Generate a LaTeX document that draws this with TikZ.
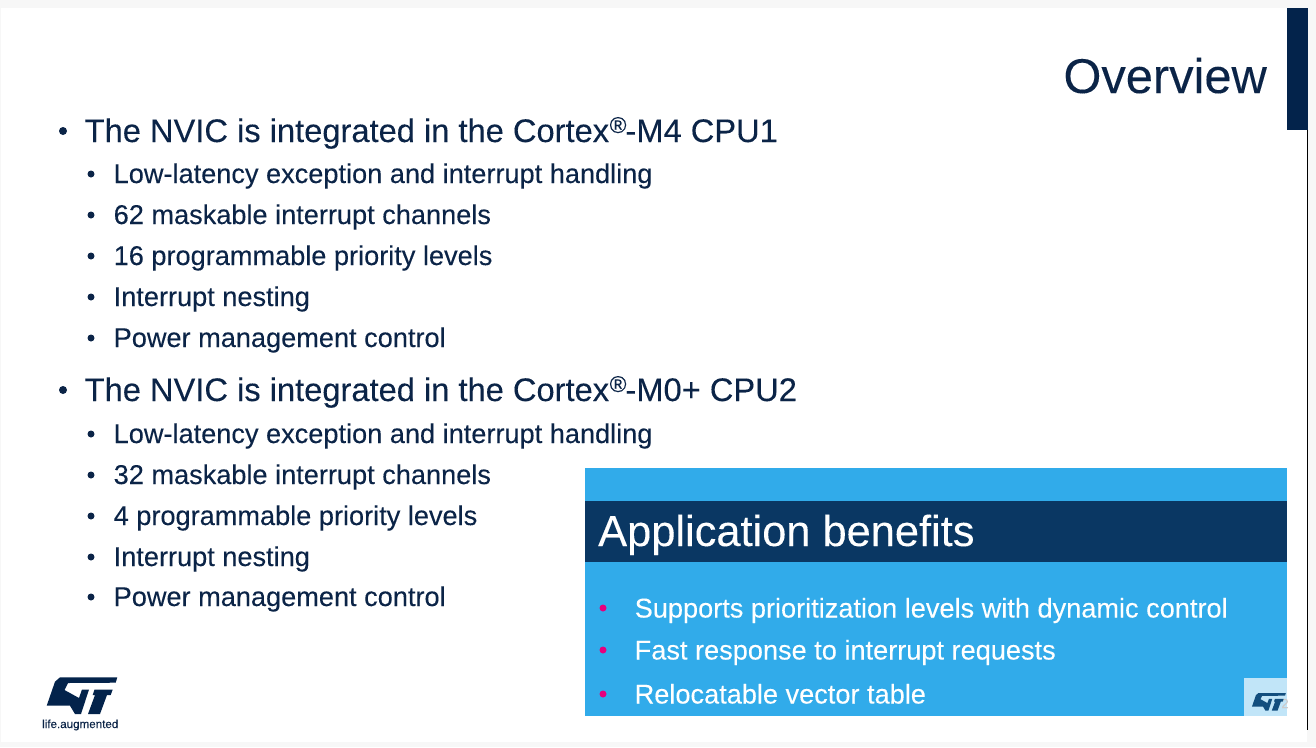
\documentclass[tikz,border=0pt]{standalone}
\usepackage{fontspec}
\setmainfont[FakeBold=0.12]{Liberation Sans}
\definecolor{stnavy}{HTML}{03234B}
\definecolor{stblue}{HTML}{31ABEA}
\definecolor{stband}{HTML}{0A3763}
\definecolor{stpink}{HTML}{E6007E}
\definecolor{stink}{HTML}{0B2447}
\newcommand{\stlogo}{
	(60,677.3) -- (117.3,677.3) -- (115.7,682.7) -- (68,683) -- (64.5,690) -- (79,698) -- (82,689.5) -- (89,689.5) -- (81,714) -- (75,714) -- (70,705.7) -- (46.7,705.7) -- (55,681.7) -- cycle
	(94.5,689.5) -- (112.7,689.5) -- (110.7,695) -- (107,695) -- (100,714) -- (88,714) -- (95,695) -- (92.7,695) -- cycle}
\tikzset{
	headitem/.style={anchor=base west,inner sep=0pt,text=stink,font=\fontsize{32.65}{36}\selectfont},
	subitem/.style={anchor=base west,inner sep=0pt,text=stink,font=\fontsize{27.15}{30}\selectfont},
	boxitem/.style={anchor=base west,inner sep=0pt,text=white,font=\fontsize{27.15}{30}\selectfont},
	headdot/.style={circle,fill=stink,inner sep=0pt,minimum size=8pt},
	subdot/.style={circle,fill=stink,inner sep=0pt,minimum size=7pt},
	boxdot/.style={circle,fill=stpink,inner sep=0pt,minimum size=7pt},
}
\begin{document}
\begin{tikzpicture}[x=1pt,y=-1pt]
	\useasboundingbox (0,0) rectangle (1316,747);
	\fill[black!3] (0,0) rectangle (1316,747);
	\fill[white] (1,8) rectangle (1307,742);
	\draw[black,line width=1pt] (1307.5,130) -- (1307.5,730);
	\fill[stnavy] (1287,8) rectangle (1308,130);
	\node[anchor=base east,inner sep=0pt,text=stink,font=\fontsize{48.8}{54}\selectfont] (title) at (1267,93) {Overview};
	% first list
	\node[headdot] (d1) at (63,131) {};
	\node[headitem] (h1) at (84.5,142) {The NVIC is integrated in the Cortex\kern1pt\textsuperscript{\kern-.5pt®\kern-1.5pt}-M4 CPU1};
	\foreach \y/\t in {184/Low-latency exception and interrupt handling,225/62 maskable interrupt channels,266/16 programmable priority levels,307/Interrupt nesting,348/Power management control}{
		\node[subdot] at (91,\y-10) {};
		\node[subitem] at (113.5,\y-1) {\t};
	}
	% second list
	\node[headdot] (d2) at (63,390) {};
	\node[headitem] (h2) at (84.5,401) {The NVIC is integrated in the Cortex\kern1pt\textsuperscript{\kern-.5pt®\kern-1.5pt}-M0+ CPU2};
	\foreach \y/\t in {444/Low-latency exception and interrupt handling,485/32 maskable interrupt channels,526/4 programmable priority levels,567/Interrupt nesting,607/Power management control}{
		\node[subdot] at (91,\y-10) {};
		\node[subitem] at (113.5,\y-1) {\t};
	}
	% benefits box
	\fill[stblue] (585,468) rectangle (1287,716);
	\fill[stband] (585,501) rectangle (1287,562);
	\node[anchor=base west,inner sep=0pt,text=white,font=\fontsize{43.4}{46}\selectfont] (apptitle) at (598,546) {Application benefits};
	\foreach \y/\t in {618/Supports prioritization levels with dynamic control,660/Fast response to interrupt requests,704/Relocatable vector table}{
		\node[boxdot] at (603,\y-10) {};
		\node[boxitem] at (634.5,\y-0.5) {\t};
	}
	% small logo
	\fill[white,opacity=.7] (1244,678) rectangle (1287,716);
	\node[anchor=base,inner sep=0pt,text=black!20,font=\fontsize{13}{14}\selectfont] (pageno) at (1285,708) {2};
	\begin{scope}[shift={(1229.5,368)},scale=.48]
		\fill[stband!80!stblue] \stlogo;
	\end{scope}
	% logo
	\fill[stnavy] \stlogo;
	\node[anchor=base west,inner sep=0pt,text=stink,font=\fontsize{11.6}{12}\selectfont] (tag) at (42,728) {life.augmented};
\end{tikzpicture}
\end{document}
